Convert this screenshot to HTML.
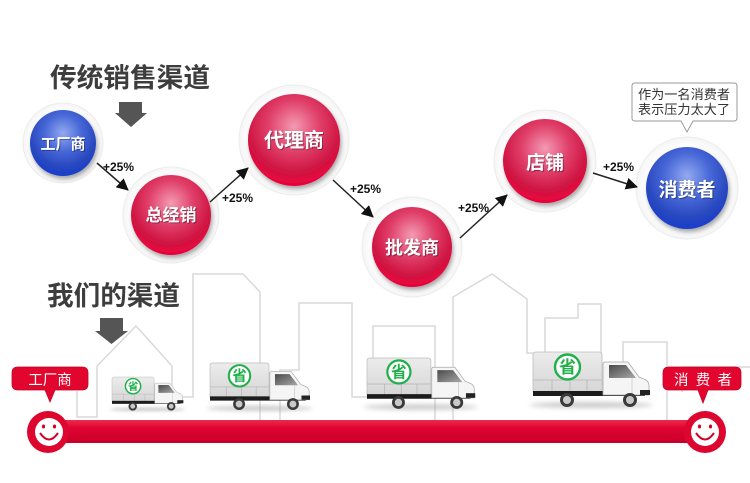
<!DOCTYPE html>
<html><head><meta charset="utf-8">
<style>
html,body{margin:0;padding:0;background:#fff;}
svg{display:block;}
text{font-family:"Liberation Sans","Noto Sans CJK SC",sans-serif;}
</style></head>
<body>
<svg width="750" height="483" viewBox="0 0 750 483" xmlns="http://www.w3.org/2000/svg">
<defs>
  <radialGradient id="red" cx="50%" cy="35%" r="62%">
    <stop offset="0" stop-color="#f49ab2"/>
    <stop offset="0.45" stop-color="#e0406a"/>
    <stop offset="0.82" stop-color="#cf1442"/>
    <stop offset="1" stop-color="#e8063d"/>
  </radialGradient>
  <radialGradient id="blue" cx="50%" cy="35%" r="62%">
    <stop offset="0" stop-color="#93aaf0"/>
    <stop offset="0.45" stop-color="#4868d8"/>
    <stop offset="0.82" stop-color="#2848bf"/>
    <stop offset="1" stop-color="#1d3fc8"/>
  </radialGradient>
  <radialGradient id="halo" cx="50%" cy="50%" r="50%">
    <stop offset="0.8" stop-color="#ffffff"/>
    <stop offset="1" stop-color="#f5f5f5"/>
  </radialGradient>
  <linearGradient id="bar" x1="0" y1="0" x2="0" y2="1">
    <stop offset="0" stop-color="#ee2a4e"/>
    <stop offset="0.35" stop-color="#df0430"/>
    <stop offset="1" stop-color="#c9002a"/>
  </linearGradient>
  <linearGradient id="tarp" x1="0" y1="0" x2="0" y2="1">
    <stop offset="0" stop-color="#ececec"/>
    <stop offset="1" stop-color="#d6d6d6"/>
  </linearGradient>
  <linearGradient id="win" x1="0" y1="0" x2="1" y2="1">
    <stop offset="0" stop-color="#4a4a4a"/>
    <stop offset="1" stop-color="#a8a8a8"/>
  </linearGradient>
  <filter id="ds" x="-30%" y="-30%" width="160%" height="160%">
    <feDropShadow dx="1.5" dy="3" stdDeviation="2" flood-color="#000" flood-opacity="0.35"/>
  </filter>
  <filter id="blur" x="-20%" y="-200%" width="140%" height="500%">
    <feGaussianBlur stdDeviation="2.5"/>
  </filter>
  <marker id="ah" viewBox="0 0 12 12" refX="11" refY="6" markerWidth="12" markerHeight="12" markerUnits="userSpaceOnUse" orient="auto">
    <path d="M0,0 L12,6 L0,12 Z" fill="#111"/>
  </marker>
  <g id="truck">
    <ellipse cx="58" cy="55" rx="62" ry="3" fill="#999" opacity="0.5" filter="url(#blur)"/>
    <path d="M0,5 Q0,2 3,2 L66,2 Q69,2 69,5 L69,42 L0,42 Z" fill="url(#tarp)" stroke="#bdbdbd" stroke-width="0.8"/>
    <line x1="0" y1="30" x2="69" y2="30" stroke="#b5b5b5" stroke-width="0.8"/>
    <line x1="19" y1="30" x2="19" y2="42" stroke="#b5b5b5" stroke-width="0.8"/>
    <line x1="37" y1="30" x2="37" y2="42" stroke="#b5b5b5" stroke-width="0.8"/>
    <line x1="54" y1="30" x2="54" y2="42" stroke="#b5b5b5" stroke-width="0.8"/>
    <rect x="0" y="41" width="112" height="5" fill="#1c1c1c"/>
    <path d="M70,14 Q70,12 72,12 L95,12 L106,27 L113,30 Q116,32 116,36 L116,45 L70,45 Z" fill="#f5f5f5" stroke="#a9a9a9" stroke-width="0.8"/>
    <path d="M76,15 L93,15 L103,28 L76,28 Z" fill="url(#win)"/>
    <line x1="99" y1="28" x2="99" y2="44" stroke="#bbb" stroke-width="0.6"/>
    <rect x="107" y="40" width="10" height="5" fill="#222"/>
    <circle cx="34" cy="50" r="7" fill="#3a3a3a"/>
    <circle cx="34" cy="50" r="4" fill="#c9c9c9"/>
    <circle cx="97" cy="50" r="7" fill="#3a3a3a"/>
    <circle cx="97" cy="50" r="4" fill="#c9c9c9"/>
    <circle cx="34.5" cy="17" r="12.5" fill="#fff" stroke="#20b04a" stroke-width="2.4"/>
  </g>
</defs>

<rect width="750" height="483" fill="#fff"/>

<!-- buildings -->
<g fill="none" stroke="#d9d9d9" stroke-width="1.5">
  <path d="M77,391 V417 H97 V366 L136,326 L172,366 V397 H193 V274 H243 L260,292 V420"/>
  <path d="M280,420 V370 H299 V303 H352 V397 H367"/>
  <path d="M373,358 V326 H435 V420"/>
  <path d="M453,420 V297 L492,274 L527,299 V353 H533"/>
  <path d="M545,352 V318 H578 V304 H601 V362"/>
  <path d="M623,362 V342 H667 V420"/>
  <path d="M682,392 V367 H750"/>
</g>

<!-- titles -->
<text x="50" y="87" font-size="26.5" font-weight="bold" fill="#3d3d3d" textLength="160" lengthAdjust="spacingAndGlyphs">传统销售渠道</text>
<polygon points="119,102 142,102 142,113 147,113 131,127 115,113 119,113" fill="#555"/>

<text x="47" y="305" font-size="26.5" font-weight="bold" fill="#3d3d3d" textLength="133" lengthAdjust="spacingAndGlyphs">我们的渠道</text>
<polygon points="100,318 123,318 123,331 128,331 111.5,344 95,331 100,331" fill="#555"/>

<!-- halos -->
<g fill="url(#halo)" stroke="#ececec" stroke-width="1">
  <circle cx="63" cy="143" r="40"/>
  <circle cx="171" cy="215" r="48"/>
  <circle cx="294" cy="140" r="55"/>
  <circle cx="412" cy="247" r="50"/>
  <circle cx="545" cy="161" r="51"/>
  <circle cx="687" cy="188" r="51"/>
</g>

<!-- balls -->
<g filter="url(#ds)">
  <circle cx="63" cy="143" r="33" fill="url(#blue)"/>
  <circle cx="171" cy="215" r="40" fill="url(#red)"/>
  <circle cx="294" cy="140" r="46" fill="url(#red)"/>
  <circle cx="412" cy="247" r="40" fill="url(#red)"/>
  <circle cx="545" cy="161" r="42" fill="url(#red)"/>
  <circle cx="687" cy="188" r="41" fill="url(#blue)"/>
</g>

<!-- ball labels (shadow) -->
<g font-weight="bold" text-anchor="middle" fill="#000" opacity="0.35">
  <text x="64" y="150" font-size="15">工厂商</text>
  <text x="172" y="222" font-size="17">总经销</text>
  <text x="295" y="148" font-size="20">代理商</text>
  <text x="413" y="255" font-size="18">批发商</text>
  <text x="546" y="170" font-size="19">店铺</text>
  <text x="688" y="197" font-size="19">消费者</text>
</g>
<g font-weight="bold" text-anchor="middle" fill="#fff">
  <text x="63" y="149" font-size="15">工厂商</text>
  <text x="171" y="221" font-size="17">总经销</text>
  <text x="294" y="147" font-size="20">代理商</text>
  <text x="412" y="254" font-size="18">批发商</text>
  <text x="545" y="169" font-size="19">店铺</text>
  <text x="687" y="196" font-size="19">消费者</text>
</g>

<!-- connectors -->
<g stroke="#222" stroke-width="1.5" marker-end="url(#ah)">
  <line x1="97" y1="163" x2="128" y2="190"/>
  <line x1="210" y1="202" x2="248" y2="168"/>
  <line x1="333" y1="180" x2="373" y2="217"/>
  <line x1="460" y1="238" x2="507" y2="195"/>
  <line x1="593" y1="173" x2="637" y2="187"/>
</g>
<g font-size="12" font-weight="bold" fill="#111">
  <text x="103" y="171">+25%</text>
  <text x="222" y="202">+25%</text>
  <text x="350" y="193">+25%</text>
  <text x="458" y="212">+25%</text>
  <text x="603" y="171">+25%</text>
</g>

<!-- speech bubble top -->
<path d="M635,83 H734 Q737,83 737,86 V118 Q737,121 734,121 H693 L687,132 L681,121 H635 Q632,121 632,118 V86 Q632,83 635,83 Z" fill="#fff" stroke="#9a9a9a" stroke-width="1"/>
<g font-size="13.3" fill="#333">
  <text x="638" y="99" textLength="92" lengthAdjust="spacingAndGlyphs">作为一名消费者</text>
  <text x="638" y="114" textLength="92" lengthAdjust="spacingAndGlyphs">表示压力太大了</text>
</g>

<!-- trucks -->
<g transform="translate(112,375.8) scale(0.61)"><use href="#truck"/><text x="34.5" y="23" font-size="17" font-weight="bold" fill="#20b04a" text-anchor="middle">省</text></g>
<g transform="translate(210,361.3) scale(0.855)"><use href="#truck"/><text x="34.5" y="23" font-size="17" font-weight="bold" fill="#20b04a" text-anchor="middle">省</text></g>
<g transform="translate(367,356.2) scale(0.925)"><use href="#truck"/><text x="34.5" y="23" font-size="17" font-weight="bold" fill="#20b04a" text-anchor="middle">省</text></g>
<g transform="translate(533,350)"><use href="#truck"/><text x="34.5" y="23" font-size="17" font-weight="bold" fill="#20b04a" text-anchor="middle">省</text></g>

<!-- red bar -->
<rect x="48" y="420" width="657" height="23" fill="url(#bar)"/>

<!-- smileys -->
<g>
  <circle cx="48" cy="432" r="21" fill="#dc062f"/>
  <circle cx="49" cy="432" r="14" fill="#fff"/>
  <ellipse cx="43.5" cy="426.5" rx="1.6" ry="2" fill="#d0042c"/>
  <ellipse cx="54.5" cy="426.5" rx="1.6" ry="2" fill="#d0042c"/>
  <path d="M40,433 Q49,446 58,433" fill="none" stroke="#d0042c" stroke-width="2"/>
</g>
<g>
  <circle cx="705" cy="432" r="21" fill="#dc062f"/>
  <circle cx="705" cy="432" r="14" fill="#fff"/>
  <ellipse cx="699.5" cy="426.5" rx="1.6" ry="2" fill="#d0042c"/>
  <ellipse cx="710.5" cy="426.5" rx="1.6" ry="2" fill="#d0042c"/>
  <path d="M696,433 Q705,446 714,433" fill="none" stroke="#d0042c" stroke-width="2"/>
</g>

<!-- bottom bubbles -->
<path d="M18,367 H82 Q88,367 88,373 V384 Q88,390 82,390 H55 L50,402 L45,390 H18 Q12,390 12,384 V373 Q12,367 18,367 Z" fill="#e2062f" stroke="#c70028" stroke-width="0.8"/>
<text x="50" y="385" font-size="14.5" fill="#fff" text-anchor="middle">工厂商</text>
<path d="M669,367 H735 Q741,367 741,373 V384 Q741,390 735,390 H708 L703,403 L698,390 H669 Q663,390 663,384 V373 Q663,367 669,367 Z" fill="#e2062f" stroke="#c70028" stroke-width="0.8"/>
<text x="674" y="385" font-size="14.5" fill="#fff" textLength="58" lengthAdjust="spacing">消费者</text>
</svg>
</body></html>
